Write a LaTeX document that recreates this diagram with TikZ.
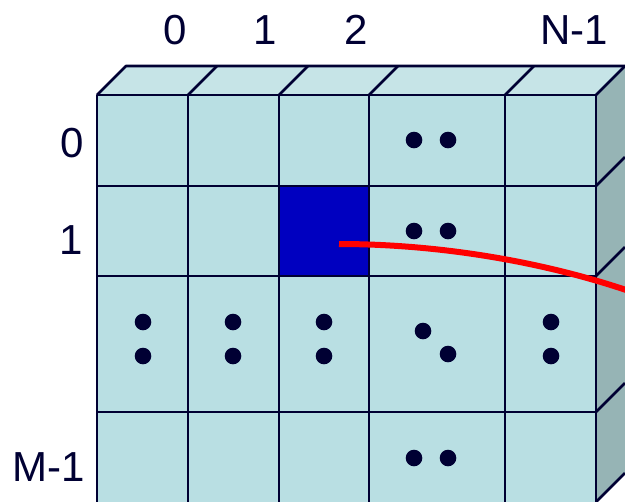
\documentclass[tikz,border=0pt]{standalone}
\usepackage{fontspec}
\setmainfont{Liberation Sans}
\definecolor{frontc}{HTML}{B9DFE3}
\definecolor{topc}{HTML}{C6E4E7}
\definecolor{sidec}{HTML}{96B4B5}
\definecolor{linec}{HTML}{000033}
\definecolor{cellblue}{HTML}{0000C0}
\begin{document}
\begin{tikzpicture}[x=0.75pt,y=-0.75pt,
  gridline/.style={draw=linec,line width=2pt,line join=round},
  lbl/.style={text=linec,font=\fontsize{31.5}{36}\selectfont,inner sep=0pt},
  dot/.style={fill=linec},
  redline/.style={draw=red,line width=4.5pt}]
\useasboundingbox (0,0) rectangle (625,501);
\clip (0,0) rectangle (625,501);
% faces
\fill[frontc] (97,95) rectangle (596,502);
\fill[topc] (97,95) -- (126,66) -- (625,66) -- (596,95) -- cycle;
\fill[sidec] (596,95) -- (625,66) -- (625,473) -- (596,502) -- cycle;
% selected cell
\fill[cellblue] (279,186) rectangle (369,276);
% front grid
\foreach \x in {97,188,279,369,505,596} \draw[gridline] (\x,95) -- (\x,505);
\foreach \y in {95,186,276,412} \draw[gridline] (97,\y) -- (596,\y);
% top face
\draw[gridline] (97,95) -- (126,66) -- (625,66);
\foreach \x in {188,279,369,505,596} \draw[gridline] (\x,95) -- (\x+29,66);
% right face
\foreach \y in {186,276,412,502} \draw[gridline] (596,\y) -- (625,\y-29);
% dots
\foreach \p in {(414,140),(448,140),(414,231),(448,231),
                (143,322),(143,356),(233,322),(233,356),(324,322),(324,356),
                (423,331),(448,354),(551,322),(551,356),
                (414,458),(448,458)}
  \fill[dot] \p circle (8.3);
% labels
\node[lbl] (c0) at (175,30) {0};
\node[lbl] (c1) at (265,30) {1};
\node[lbl] (c2) at (356,30) {2};
\node[lbl] (cN) at (574,30) {N-1};
\node[lbl] (r0) at (72,143) {0};
\node[lbl] (r1) at (71,240) {1};
\node[lbl] (rM) at (49,467) {M-1};
% red connector
\coordinate (start) at (339,244);
\coordinate (end) at (632,292);
\draw[redline] (start) .. controls (440,244) and (545,262) .. (end);
\end{tikzpicture}
\end{document}
